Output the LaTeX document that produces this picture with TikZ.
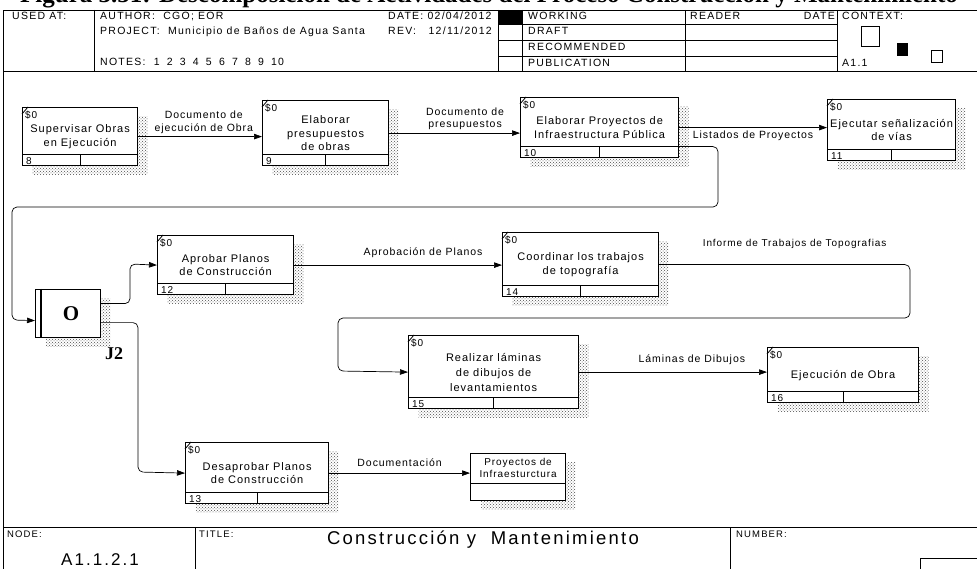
\documentclass[tikz,border=0pt]{standalone}
\usepackage{fontspec}
\setmainfont{Liberation Sans}[LetterSpace=9]
\newfontfamily\headfont{Liberation Sans}[LetterSpace=12]
\newfontfamily\capserif{Liberation Serif}
\usetikzlibrary{arrows.meta,shadows,patterns,calc}

\begin{document}
\begin{tikzpicture}[x=1pt, y=-1pt, >={Triangle[length=8pt,width=5.5pt]},
  hatch shadow/.style={general shadow={shadow xshift=10pt, shadow yshift=-9pt, pattern=crosshatch dots, pattern color=black!70}},
  act node/.style={draw, line width=1.2pt, fill=white, align=center, inner sep=0pt,
    anchor=north west, font=\fontsize{11}{13.5}\selectfont, hatch shadow},
  flow/.style={->, line width=0.7pt},
  flow label/.style={font=\fontsize{10.5}{12.5}\selectfont, align=center, inner sep=3pt},
  head text/.style={anchor=north west, inner sep=0pt, font=\headfont\fontsize{10.5}{11}\selectfont},
  frame line/.style={line width=0.9pt}]
\useasboundingbox (0,0) rectangle (977,569);
\clip (0,0) rectangle (977,569);

% caption of the page, cut at the top
\begin{scope}
  \clip (0,0) rectangle (977,9);
  \node[anchor=base west, inner sep=0pt, font=\capserif\bfseries\fontsize{25}{25}\selectfont] (caption) at (20,3)
    {Figura 3.51: Descomposición de Actividades del Proceso Construcción y Mantenimiento};
\end{scope}

% form header
\draw[frame line] (3,569) -- (3,10) -- (990,10);
\draw[frame line] (3,71) -- (990,71);
\foreach \xx in {94,498,522,685,837}
  \draw[frame line] (\xx,10) -- (\xx,71);
\foreach \yy in {24,40,56}
  \draw[frame line] (498,\yy) -- (837,\yy);
\fill (498,10) rectangle (522,24);

\node[head text] (usedat) at (12,12) {USED AT:};
\node[head text] (author) at (100,12) {AUTHOR:~~CGO; EOR};
\node[head text] (project) at (100,27) {PROJECT:~~Municipio de Baños de Agua Santa};
\node[head text] (notes) at (100,58) {NOTES:~~1~\hspace{3pt}2~\hspace{3pt}3~\hspace{3pt}4~\hspace{3pt}5~\hspace{3pt}6~\hspace{3pt}7~\hspace{3pt}8~\hspace{3pt}9~\hspace{3pt}10};
\node[head text] (date) at (388,12) {DATE: 02/04/2012};
\node[head text] (rev) at (388,27) {REV:~~~12/11/2012};
\node[head text] (working) at (528,12) {WORKING};
\node[head text] (draft) at (528,27) {DRAFT};
\node[head text] (recom) at (528,43) {RECOMMENDED};
\node[head text] (public) at (528,59) {PUBLICATION};
\node[head text] (reader) at (690,12) {READER};
\node[head text, anchor=north east] (rdate) at (835,12) {DATE};
\node[head text] (context) at (842,12) {CONTEXT:};
\node[head text] (ctxnum) at (842,59) {A1.1};
\draw[line width=0.8pt] (861,26) rectangle (879,46);
\fill (897,43) rectangle (908,56);
\draw[line width=0.8pt] (931,50) rectangle (942,62);

% activity boxes
\node[act node, minimum width=115pt, minimum height=58pt] (b8) at (22,107) {Supervisar Obras\\en Ejecución};
\node[act node, minimum width=126pt, minimum height=65pt] (b9) at (262,100) {Elaborar\\presupuestos\\de obras};
\node[act node, minimum width=158pt, minimum height=60pt] (b10) at (520,97) {Elaborar Proyectos de\\Infraestructura Pública};
\node[act node, minimum width=128pt, minimum height=61pt] (b11) at (827,99) {Ejecutar señalización\\de vías};
\node[act node, minimum width=136pt, minimum height=59pt] (b12) at (157,235) {Aprobar Planos\\de Construcción};
\node[act node, minimum width=156pt, minimum height=64pt] (b14) at (502,232) {Coordinar los trabajos\\de topografía};
\node[act node, minimum width=170pt, minimum height=73pt, font=\fontsize{11}{15}\selectfont] (b15) at (408,335) {Realizar láminas\\de dibujos de\\levantamientos};
\node[act node, minimum width=151pt, minimum height=55pt] (b16) at (767,347) {Ejecución de Obra};
\node[act node, minimum width=143pt, minimum height=61pt] (b13) at (185,442) {Desaprobar Planos\\de Construcción};
\node[act node, minimum width=95pt, minimum height=47pt] (proy) at (470,453) {};
\node[font=\fontsize{10}{11.5}\selectfont, align=center] (proytext) at ([yshift=9pt]proy.center) {Proyectos de\\Infraesturctura};
\draw[line width=1.2pt] ([yshift=18pt]proy.south west) -- ([yshift=18pt]proy.south east);

\foreach \bx/\nr in {b8/8,b9/9,b10/10,b11/11,b12/12,b13/13,b14/14,b15/15,b16/16} {
  \draw[line width=1.2pt] ([yshift=12pt]\bx.south west) -- ([yshift=12pt]\bx.south east);
  \draw[line width=1.2pt] ([yshift=12pt]\bx.south) -- (\bx.south);
  \draw[line width=0.8pt] ([yshift=-7pt]\bx.north west) -- ([xshift=6pt]\bx.north west);
  \node[anchor=north west, inner sep=0pt, font=\fontsize{10}{10}\selectfont] at ([xshift=3pt,yshift=-4pt]\bx.north west) {\$0};
  \node[anchor=south west, inner sep=0pt, font=\fontsize{10}{10}\selectfont] at ([xshift=4pt,yshift=1.5pt]\bx.south west) {\nr};
}

% junction J2
\node[draw, line width=1.2pt, fill=white, anchor=north west, minimum width=65pt, minimum height=48pt,
  hatch shadow, font=\capserif\bfseries\fontsize{21}{21}\selectfont] (j2) at (35,289) {\hspace{6pt}O};
\draw[line width=1.2pt] ([xshift=6pt]j2.north west) -- ([xshift=6pt]j2.south west);
\node[font=\capserif\bfseries\fontsize{18}{18}\selectfont, inner sep=0pt] (j2name) at (114,354) {J2};

% flows
\path (b8.east) edge[flow] node[flow label, above, pos=0.53] {Documento de\\ejecución de Obra} (b8.east -| b9.west);
\path (b9.east) edge[flow] node[flow label, above, pos=0.58] {Documento de\\presupuestos} (b9.east -| b10.west);
\path (b10.east) edge[flow] node[flow label, below, pos=0.5] {Listados de Proyectos} (b10.east -| b11.west);
\path (b12.east) edge[flow] node[flow label, above=4pt, pos=0.62] {Aprobación de Planos} (b12.east -| b14.west);
\path (b15.east) edge[flow] node[flow label, above=4pt, pos=0.6] {Láminas de Dibujos} (b15.east -| b16.west);
\path (b13.east) edge[flow] node[flow label, above=3pt] {Documentación} (b13.east -| proy.west);

\draw[flow, rounded corners=5pt] ([yshift=-19pt]b10.east) -| (718,207) -| (12,320) -- ([yshift=-7pt]j2.west);
\draw[flow, rounded corners=5pt] ([yshift=10pt]j2.east) -| (130,264) -- (b12.west);
\draw[flow, rounded corners=5pt] ([yshift=-9pt]j2.east) -| (138,472) -- (b13.west);
\draw[flow, rounded corners=5pt] (b14.east) -| node[flow label, pos=0.27, above=13pt, font=\fontsize{10}{11}\selectfont] {Informe de Trabajos de Topografias}
  (910,318) -| (338,371) -- (b15.west);

% title block
\draw[frame line] (3,527) -- (990,527);
\draw[frame line] (195,527) -- (195,569);
\draw[frame line] (730,527) -- (730,569);
\node[head text, font=\headfont\fontsize{9.5}{10}\selectfont] (nodelab) at (7,531) {NODE:};
\node[anchor=base, inner sep=0pt, font=\headfont\fontsize{17}{17}\selectfont] (nodenr) at (100,565) {A1.1.2.1};
\node[head text, font=\headfont\fontsize{9.5}{10}\selectfont] (titlelab) at (199,531) {TITLE:};
\node[anchor=base, inner sep=0pt, font=\headfont\fontsize{18.5}{18.5}\selectfont] (title) at (483,544) {Construcción y~~Mantenimiento};
\node[head text, font=\headfont\fontsize{9.5}{10}\selectfont] (numlab) at (736,531) {NUMBER:};
\draw[frame line] (920,558) rectangle (990,580);
\end{tikzpicture}
\end{document}
